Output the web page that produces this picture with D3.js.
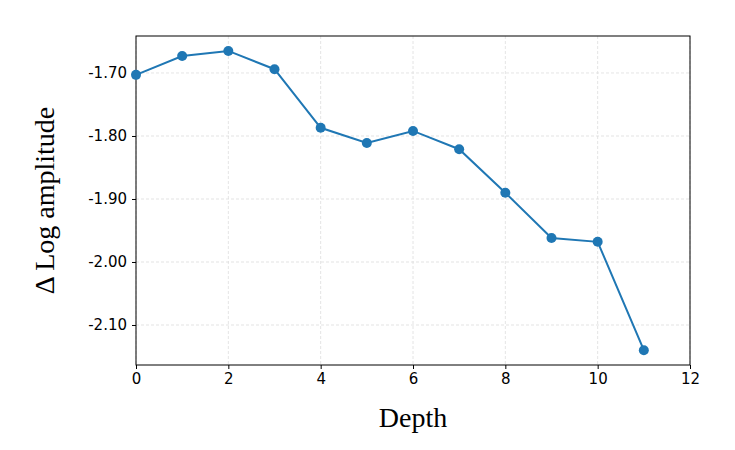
<!DOCTYPE html>
<html><head><meta charset="utf-8">
<script src="https://cdn.jsdelivr.net/npm/d3@7"></script>
<style>body{margin:0;background:#fff}</style>
</head><body>
<script>
var depth = [0,1,2,3,4,5,6,7,8,9,10,11];
var logAmp = [-1.703,-1.673,-1.665,-1.694,-1.787,-1.811,-1.792,-1.821,-1.890,-1.962,-1.968,-2.140];
var xTicks = [0,2,4,6,8,10,12];
var yTicks = [-1.70,-1.80,-1.90,-2.00,-2.10];

var w = 735, h = 450;
var m = {left:136, right:45, top:36, bottom:85};
var svg = d3.select('body').append('svg').attr('width',w).attr('height',h);

var x = d3.scaleLinear().domain([0,12]).range([m.left, w-m.right]);
var y = d3.scaleLinear().domain([-2.1635,-1.6413]).range([h-m.bottom, m.top]);

var grid = svg.append('g').attr('stroke','#dddddd').attr('stroke-dasharray','3,2').attr('stroke-width',0.8);
grid.selectAll('.gx').data(xTicks).enter().append('line')
  .attr('x1',function(d){return x(d);}).attr('x2',function(d){return x(d);})
  .attr('y1',m.top).attr('y2',h-m.bottom);
grid.selectAll('.gy').data(yTicks).enter().append('line')
  .attr('y1',function(d){return y(d);}).attr('y2',function(d){return y(d);})
  .attr('x1',m.left).attr('x2',w-m.right);

var xAxis = svg.append('g').attr('transform','translate(0,'+(h-m.bottom)+')')
  .call(d3.axisBottom(x).tickValues(xTicks).tickSize(4).tickPadding(4).tickFormat(d3.format('d')));
var yAxis = svg.append('g').attr('transform','translate('+m.left+',0)')
  .call(d3.axisLeft(y).tickValues(yTicks).tickSize(4).tickPadding(5).tickFormat(d3.format('.2f')));
[xAxis,yAxis].forEach(function(a){
  a.select('.domain').remove();
  a.attr('font-size',15).attr('font-family','DejaVu Sans');
  a.selectAll('text').attr('fill','#000');
  a.selectAll('line').attr('stroke','#000');
});
yAxis.selectAll('text').text(function(d){return d3.format('.2f')(d).replace('−','-');});

svg.append('rect').attr('x',m.left).attr('y',m.top)
  .attr('width',w-m.left-m.right).attr('height',h-m.top-m.bottom)
  .attr('fill','none').attr('stroke','#000').attr('stroke-width',1);

var line = d3.line().x(function(d,i){return x(depth[i]);}).y(function(d){return y(d);});
svg.append('path').datum(logAmp).attr('d',line).attr('fill','none')
  .attr('stroke','#1f77b4').attr('stroke-width',2);
svg.selectAll('.pt').data(logAmp).enter().append('circle')
  .attr('cx',function(d,i){return x(depth[i]);}).attr('cy',function(d){return y(d);})
  .attr('r',5).attr('fill','#1f77b4');

svg.append('text').attr('x',(m.left+w-m.right)/2).attr('y',427)
  .attr('text-anchor','middle').attr('font-family','Liberation Serif').attr('font-size',28).text('Depth');
svg.append('text').attr('transform','translate(54,'+((m.top+h-m.bottom)/2)+') rotate(-90)')
  .attr('text-anchor','middle').attr('font-family','Liberation Serif').attr('font-size',28).text('Δ Log amplitude');
</script>
</body></html>
